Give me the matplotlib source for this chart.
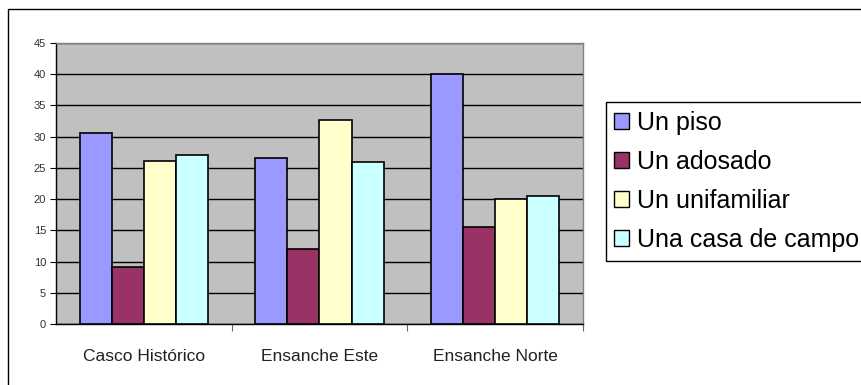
import matplotlib
matplotlib.use('Agg')
from matplotlib import pyplot as plt
from matplotlib.patches import Patch, Rectangle
import numpy as np

# datos
zonas = ['Casco Histórico', 'Ensanche Este', 'Ensanche Norte']
series = ['Un piso', 'Un adosado', 'Un unifamiliar', 'Una casa de campo']
un_piso = [30.6, 26.5, 40.0]
un_adosado = [9.2, 12.1, 15.6]
un_unifamiliar = [26.1, 32.6, 20.1]
casa_campo = [27.1, 25.9, 20.5]
colores = ['#9999FF', '#993366', '#FFFFCC', '#CCFFFF']

valores = [un_piso, un_adosado, un_unifamiliar, casa_campo]

plt.rcParams['font.family'] = ['Liberation Sans', 'DejaVu Sans']

W, H = 861, 385
fig = plt.figure(figsize=(W / 100, H / 100), dpi=100)
ax = fig.add_axes([55.7 / W, 60.7 / H, (583.3 - 55.7) / W, (342.3 - 60.7) / H])
ax.set_facecolor('#C0C0C0')

x = np.arange(len(zonas))
ancho = 0.182
for i, (vals, col) in enumerate(zip(valores, colores)):
	ax.bar(x + (i - 1.5) * ancho, vals, ancho, color=col, edgecolor='black',
		linewidth=1.2, zorder=3)

ax.set_xlim(-0.5, 2.5)
ax.set_ylim(0, 45)
ax.set_yticks(range(0, 46, 5))
ax.yaxis.grid(True, color='black', linewidth=1.0, zorder=1)
ax.set_axisbelow(True)

ax.set_xticks(x)
ax.set_xticklabels(zonas, fontsize=12.5, color='#222222')
ax.set_xticks([0.5, 1.5, 2.5], minor=True)
ax.tick_params(axis='x', which='major', length=0, pad=18)
ax.tick_params(axis='x', which='minor', length=5, width=0.8, color='#666666', direction='out')
ax.tick_params(axis='y', length=4, width=0.8, pad=3, labelsize=8, labelcolor='#333333')

ax.spines['left'].set_color('black')
ax.spines['bottom'].set_color('black')
ax.spines['top'].set_color('#808080')
ax.spines['right'].set_color('#808080')
for s in ax.spines.values():
	s.set_linewidth(1.0)

# leyenda
handles = [Patch(facecolor=c, edgecolor='black', linewidth=1.0) for c in colores]
leg = fig.legend(handles, series, loc='upper left',
	bbox_to_anchor=(605.7 / W, (H - 102) / H), borderaxespad=0,
	fontsize=18, handlelength=0.6, handleheight=0.6, handletextpad=0.3,
	labelspacing=0.6, borderpad=0.35, fancybox=False, framealpha=1,
	edgecolor='black')
leg.get_frame().set_linewidth(1.0)

# marco exterior
fig.patches.append(Rectangle((7.5 / W, -0.1), 1.0, 1.1 - 8.5 / H,
	transform=fig.transFigure, fill=False, edgecolor='black', linewidth=1.0))

fig.savefig('out.png', dpi=100)
